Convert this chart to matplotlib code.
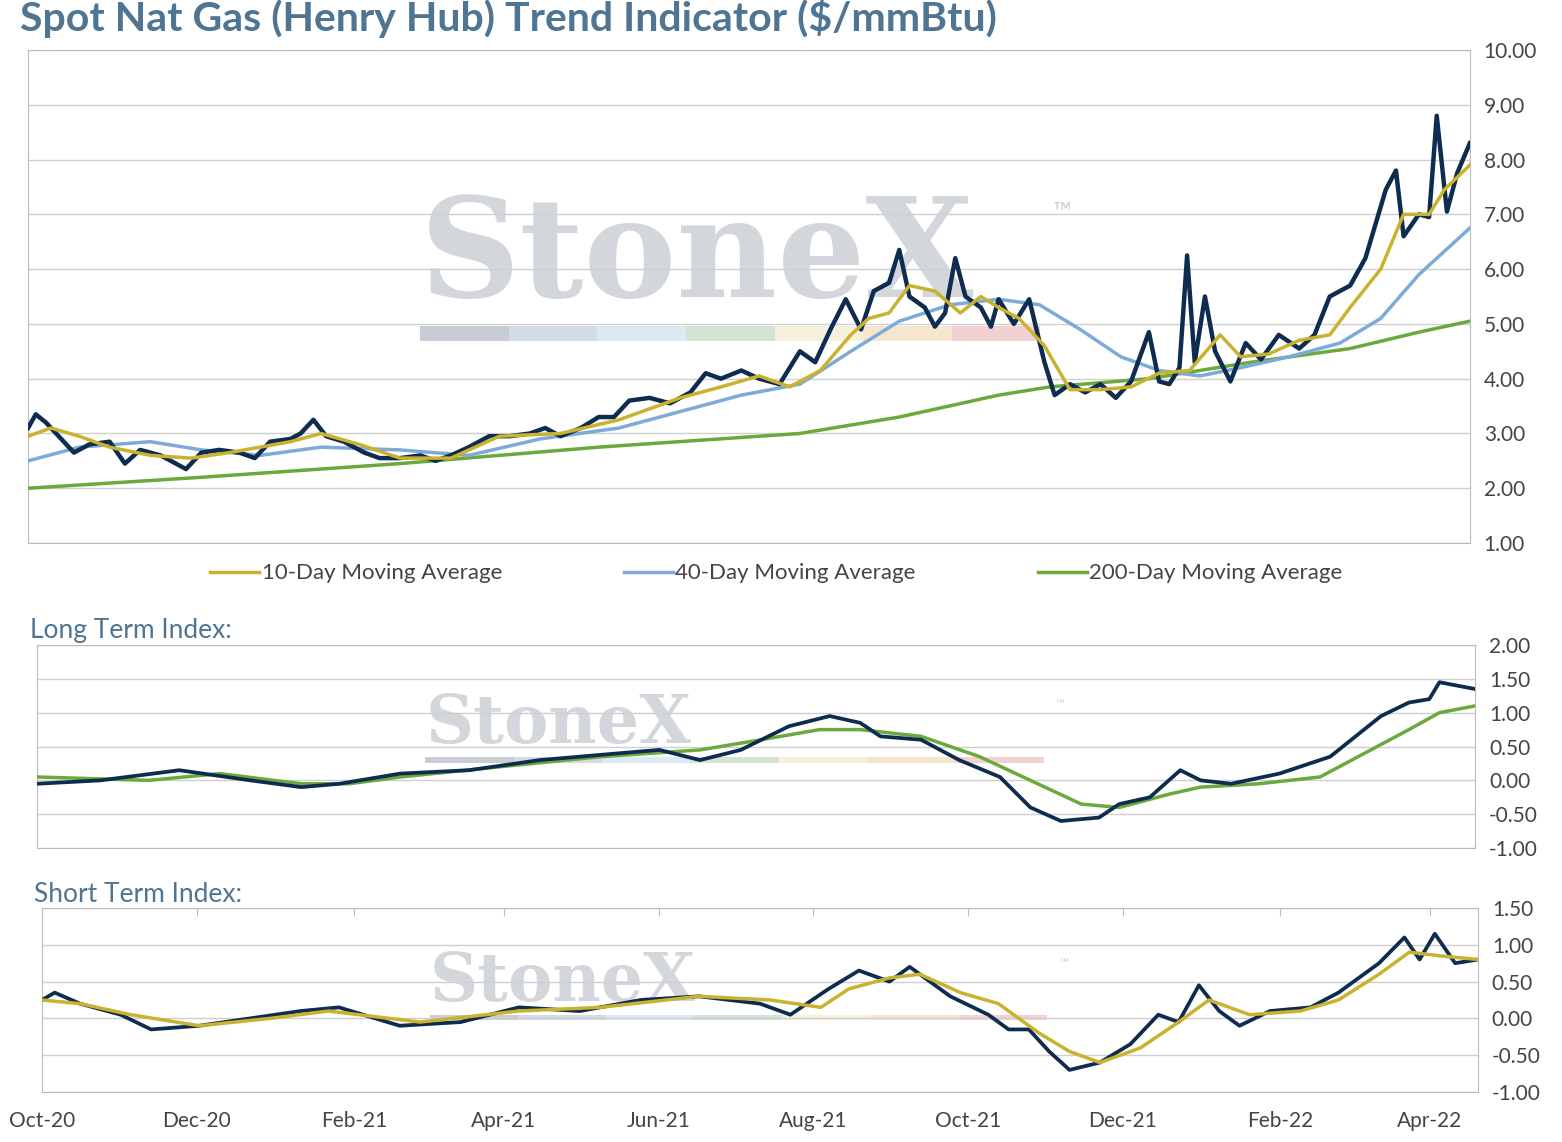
import numpy as np
import pandas as pd
import matplotlib
matplotlib.use("Agg")
import matplotlib.pyplot as plt
import matplotlib.dates as mdates

plt.rcParams['font.family'] = ['Lato', 'DejaVu Sans']

start = pd.Timestamp("2020-10-01")
end = start + pd.Timedelta(days=566)

# top panel: spot price and moving averages (days since 2020-10-01, $/mmBtu)
spot_days = [0, 3, 7, 13, 18, 24, 32, 38, 44, 52, 58, 62, 68, 75, 83, 89, 95, 103, 107, 112, 117, 124, 132, 138,
             146, 154, 160, 166, 173, 181, 189, 197, 203, 209, 217, 224, 230, 236, 244, 252, 260, 266, 272, 280,
             287, 295, 303, 309, 315, 321, 327, 332, 338, 342, 346, 352, 356, 360, 364, 368, 374, 378, 381, 387,
             393, 399, 403, 409, 415, 421, 427, 433, 440, 444, 448, 452, 455, 458, 462, 466, 472, 478, 484, 491,
             499, 505, 511, 519, 525, 533, 537, 540, 546, 550, 553, 557, 561, 566]
spot = [3.1, 3.35, 3.2, 2.9, 2.65, 2.8, 2.85, 2.45, 2.7, 2.6, 2.45, 2.35, 2.65, 2.7, 2.65, 2.55, 2.85, 2.9, 3.0, 3.25,
        2.95, 2.85, 2.65, 2.55, 2.55, 2.6, 2.5, 2.6, 2.75, 2.95, 2.95, 3.0, 3.1, 2.95, 3.1, 3.3, 3.3, 3.6, 3.65, 3.55,
        3.75, 4.1, 4.0, 4.15, 4.0, 3.9, 4.5, 4.3, 4.9, 5.45, 4.9, 5.6, 5.75, 6.35, 5.5, 5.3, 4.95, 5.2, 6.2, 5.5,
        5.3, 4.95, 5.45, 5.0, 5.45, 4.3, 3.7, 3.9, 3.75, 3.9, 3.65, 3.95, 4.85, 3.95, 3.9, 4.2, 6.25, 4.3, 5.5, 4.5,
        3.95, 4.65, 4.35, 4.8, 4.55, 4.8, 5.5, 5.7, 6.2, 7.45, 7.8, 6.6, 7.0, 6.95, 8.8, 7.05, 7.75, 8.3]

ma10_days = [0, 9, 20, 32, 48, 64, 79, 103, 115, 130, 146, 166, 185, 209, 232, 256, 272, 287, 299, 311, 323, 330,
             338, 346, 356, 366, 374, 381, 389, 399, 409, 421, 433, 444, 456, 468, 476, 487, 499, 511, 519, 531,
             540, 550, 556, 566]
ma10 = [2.95, 3.1, 2.95, 2.75, 2.6, 2.55, 2.65, 2.85, 3.0, 2.8, 2.55, 2.55, 2.95, 3.0, 3.25, 3.65, 3.85, 4.05, 3.85,
        4.15, 4.8, 5.1, 5.2, 5.7, 5.6, 5.2, 5.5, 5.3, 5.1, 4.6, 3.8, 3.8, 3.85, 4.1, 4.15, 4.8, 4.4, 4.45, 4.7, 4.8,
        5.3, 6.0, 7.0, 7.0, 7.45, 7.9]

ma40_days = [0, 20, 48, 68, 91, 115, 146, 173, 201, 232, 256, 280, 303, 323, 342, 362, 381, 397, 413, 429, 444,
             460, 476, 495, 515, 531, 546, 566]
ma40 = [2.5, 2.75, 2.85, 2.7, 2.6, 2.75, 2.7, 2.6, 2.9, 3.1, 3.4, 3.7, 3.9, 4.5, 5.05, 5.35, 5.45, 5.35, 4.9, 4.4,
        4.15, 4.05, 4.2, 4.4, 4.65, 5.1, 5.9, 6.75]

ma200_days = [0, 68, 146, 224, 303, 342, 381, 401, 440, 480, 519, 546, 566]
ma200 = [2.0, 2.2, 2.45, 2.75, 3.0, 3.3, 3.7, 3.85, 4.0, 4.3, 4.55, 4.85, 5.05]

# long term index
lt_days = [0, 25, 56, 84, 104, 119, 143, 170, 198, 229, 245, 261, 277, 296, 312, 324, 332, 348, 363, 379, 391, 403,
           418, 426, 438, 450, 458, 470, 489, 509, 529, 540, 548, 552, 566]
lt_index = [-0.05, 0.0, 0.15, 0.0, -0.1, -0.05, 0.1, 0.15, 0.3, 0.4, 0.45, 0.3, 0.45, 0.8, 0.95, 0.85, 0.65, 0.6,
            0.3, 0.05, -0.4, -0.6, -0.55, -0.35, -0.25, 0.15, 0.0, -0.05, 0.1, 0.35, 0.95, 1.15, 1.2, 1.45, 1.35]
lt_sig_days = [0, 44, 72, 104, 123, 143, 182, 222, 261, 285, 308, 324, 348, 371, 391, 411, 426, 446, 458, 481, 505,
               525, 540, 552, 566]
lt_signal = [0.05, 0.0, 0.1, -0.05, -0.05, 0.05, 0.2, 0.35, 0.45, 0.6, 0.75, 0.75, 0.65, 0.35, 0.0, -0.35, -0.4,
             -0.2, -0.1, -0.05, 0.05, 0.45, 0.75, 1.0, 1.1]

# short term index
st_days = [0, 5, 15, 31, 43, 62, 82, 102, 117, 141, 165, 188, 212, 236, 259, 283, 295, 310, 322, 334, 342, 358, 373,
           381, 389, 397, 405, 417, 429, 440, 448, 456, 464, 472, 484, 500, 511, 527, 537, 543, 549, 557, 566]
st_index = [0.25, 0.35, 0.2, 0.05, -0.15, -0.1, 0.0, 0.1, 0.15, -0.1, -0.05, 0.15, 0.1, 0.25, 0.3, 0.2, 0.05, 0.4,
            0.65, 0.5, 0.7, 0.3, 0.05, -0.15, -0.15, -0.45, -0.7, -0.6, -0.35, 0.05, -0.05, 0.45, 0.1, -0.1, 0.1,
            0.15, 0.35, 0.75, 1.1, 0.8, 1.15, 0.75, 0.8]
st_sig_days = [0, 15, 35, 62, 90, 113, 149, 188, 220, 259, 287, 307, 318, 334, 346, 362, 377, 393, 405, 417, 433,
               448, 460, 476, 496, 511, 527, 539, 551, 566]
st_signal = [0.25, 0.2, 0.05, -0.1, 0.0, 0.1, -0.05, 0.1, 0.15, 0.3, 0.25, 0.15, 0.4, 0.55, 0.6, 0.35, 0.2, -0.2,
             -0.45, -0.6, -0.4, -0.05, 0.25, 0.05, 0.1, 0.25, 0.6, 0.9, 0.85, 0.8]

NAVY = "#0e2c50"
GOLD = "#c9b22f"
BLUE = "#7cabd8"
GREEN = "#6aa93c"
TITLE = "#4f7592"
TXT = "#444444"
GRID = "#cfcfcf"


def d(days):
    return [start + pd.Timedelta(days=int(x)) for x in days]


def style(ax, lo, hi, step):
    ax.set_xlim(start, end)
    ax.set_ylim(lo, hi)
    ax.set_yticks(np.arange(lo, hi + 0.001, step))
    ax.yaxis.tick_right()
    ax.yaxis.set_major_formatter(matplotlib.ticker.FormatStrFormatter("%.2f"))
    ax.tick_params(axis="y", length=0, labelsize=15, colors=TXT, pad=10)
    ax.grid(axis="y", color=GRID, lw=1)
    for s in ax.spines.values():
        s.set_color("#bbbbbb")
    ax.set_axisbelow(True)


def watermark(ax, x, y, size, w):
    ax.text(x, y, "StoneX", transform=ax.transAxes, fontsize=size, family="DejaVu Serif", fontweight="bold",
            color="#ccd0d6", alpha=0.85, ha="left", va="bottom", zorder=0)
    ax.text(x + w * 1.02, y + 0.75 * (y + 0.0) * 0 + 0.14 * 0.4317 / ax.get_position().height * size / 90 + 0.06,
            "™", transform=ax.transAxes, fontsize=size * 0.18, color="#ccd0d6", zorder=0)
    cols = ["#c8ccd4", "#d3dbe5", "#dde9f3", "#d5e3d4", "#f5f1dc", "#f7e6cf", "#f1d1d1"]
    for i, c in enumerate(cols):
        ax.add_patch(plt.Rectangle((x + i * w / 7, y - 0.03), w / 7, 0.03, transform=ax.transAxes,
                                   color=c, zorder=0, lw=0))


fig = plt.figure(figsize=(15.62, 11.42), dpi=100)

ax1 = fig.add_axes([0.018, 0.5245, 0.923, 0.4317])
style(ax1, 1, 10, 1)
ax1.set_xticks([])
watermark(ax1, 0.272, 0.44, 100, 0.43)
ax1.plot(d(ma200_days), ma200, color=GREEN, lw=2.5, label="200-Day Moving Average", zorder=3)
ax1.plot(d(ma40_days), ma40, color=BLUE, lw=2.5, label="40-Day Moving Average", zorder=3)
ax1.plot(d(spot_days), spot, color=NAVY, lw=3.2, zorder=4)
ax1.plot(d(ma10_days), ma10, color=GOLD, lw=2.5, label="10-Day Moving Average", zorder=5)
h, l = ax1.get_legend_handles_labels()
order = [2, 1, 0]
fig.legend([h[i] for i in order], [l[i] for i in order], loc="center", bbox_to_anchor=(0.497, 0.498), ncol=3,
           frameon=False, fontsize=16, labelcolor=TXT, handlelength=2.2, handletextpad=0.1, columnspacing=5.5)
fig.text(0.013, 0.984, "Spot Nat Gas (Henry Hub) Trend Indicator ($/mmBtu)", fontsize=29.5, fontweight="bold",
         color=TITLE, va="center")

ax2 = fig.add_axes([0.0237, 0.2574, 0.9206, 0.1778])
style(ax2, -1, 2, 0.5)
ax2.set_xticks([])
watermark(ax2, 0.27, 0.45, 48, 0.43)
ax2.plot(d(lt_sig_days), lt_signal, color=GREEN, lw=2.5, zorder=3)
ax2.plot(d(lt_days), lt_index, color=NAVY, lw=2.7, zorder=4)
fig.text(0.019, 0.448, "Long Term Index:", fontsize=19, color=TITLE, va="center")

ax3 = fig.add_axes([0.0269, 0.0438, 0.9193, 0.1611])
style(ax3, -1, 1.5, 0.5)
ax3.xaxis.set_major_locator(mdates.MonthLocator(bymonth=[2, 4, 6, 8, 10, 12]))
ax3.xaxis.set_major_formatter(mdates.DateFormatter("%b-%y"))
ax3.tick_params(axis="x", length=6, direction="in", top=True, bottom=False, color="#bbbbbb",
                labelsize=15, colors=TXT, pad=14)
ax3.tick_params(axis="x", colors="#bbbbbb", labelcolor=TXT)
watermark(ax3, 0.27, 0.42, 48, 0.43)
ax3.plot(d(st_days), st_index, color=NAVY, lw=2.7, zorder=3)
ax3.plot(d(st_sig_days), st_signal, color=GOLD, lw=2.5, zorder=4)
fig.text(0.022, 0.217, "Short Term Index:", fontsize=19, color=TITLE, va="center")

fig.savefig("out.png", dpi=100)
